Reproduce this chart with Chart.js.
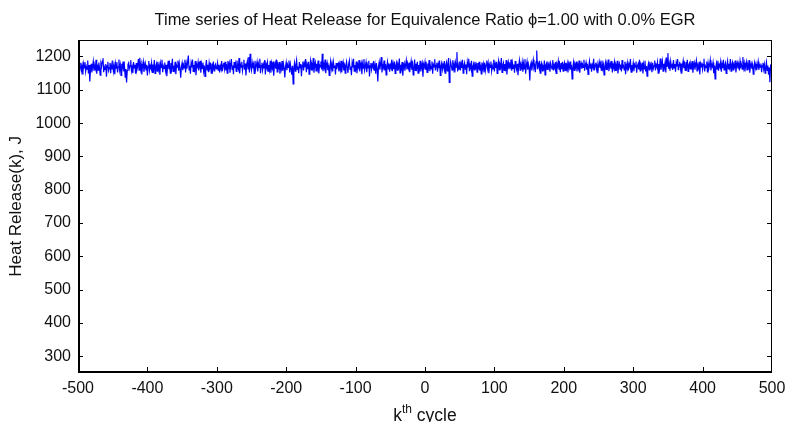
<!DOCTYPE html>
<html>
<head>
<meta charset="utf-8">
<title>Heat Release time series</title>
<script src="https://cdn.jsdelivr.net/npm/chart.js@4/dist/chart.umd.min.js"></script>
<style>
  html, body { margin: 0; padding: 0; background: #ffffff; }
  canvas { display: block; }
</style>
</head>
<body>
<canvas id="chart" width="788" height="422"></canvas>
<script>
// Cycle numbering starts here and advances by one per value
const firstCycle = -500;

// Heat release per engine cycle, J (cycles -500 … 500)
const heatRelease = [
  1162,1175,1150,1168,1181,1158,1172,1145,1178,1166,1183,1155,1170,1162,1188,1149,1174,1125,1160,1178,1152,1169,1185,1157,1171,
  1163,1190,1148,1176,1159,1182,1167,1144,1179,1170,1186,1195,1153,1168,1161,1177,1139,1172,1184,1158,1166,1180,1150,1175,1163,
  1188,1156,1171,1147,1179,1165,1183,1152,1169,1191,1160,1174,1143,1178,1167,1185,1155,1170,1138,1162,1122,1158,1176,1181,1164,
  1172,1189,1157,1168,1150,1183,1166,1175,1148,1180,1161,1171,1192,1159,1196,1163,1177,1146,1173,1185,1154,1168,1179,1160,1175,
  1143,1170,1186,1158,1172,1165,1181,1152,1176,1163,1189,1149,1170,1178,1156,1184,1161,1173,1145,1179,1167,1190,1153,1171,1164,
  1182,1158,1175,1141,1169,1187,1162,1176,1150,1180,1166,1193,1155,1172,1161,1184,1147,1174,1168,1188,1157,1179,1163,1136,1170,
  1181,1159,1175,1166,1190,1152,1178,1163,1185,1203,1160,1172,1148,1180,1167,1191,1155,1174,1162,1186,1144,1176,1169,1183,1158,
  1171,1187,1151,1177,1164,1182,1156,1173,1140,1168,1189,1160,1175,1153,1181,1166,1174,1150,1179,1162,1185,1157,1170,1176,1163,
  1168,1181,1159,1175,1152,1171,1163,1186,1156,1174,1181,1163,1184,1158,1177,1150,1186,1169,1180,1151,1175,1192,1161,1173,1147,
  1183,1166,1178,1155,1188,1170,1162,1195,1149,1176,1168,1184,1157,1172,1190,1160,1179,1143,1174,1186,1163,1198,1152,1208,1169,
  1158,1181,1165,1176,1149,1187,1162,1173,1184,1155,1178,1167,1193,1150,1172,1181,1159,1175,1164,1189,1146,1177,1168,1182,1156,
  1174,1160,1187,1151,1179,1166,1185,1142,1171,1180,1163,1191,1154,1176,1168,1183,1148,1173,1162,1186,1157,1178,1165,1137,1170,
  1182,1159,1175,1167,1188,1152,1177,1163,1145,1172,1118,1165,1180,1156,1174,1189,1161,1170,1150,1183,1166,1177,1141,1173,1185,
  1158,1179,1168,1192,1153,1175,1162,1184,1147,1171,1187,1160,1176,1166,1195,1151,1173,1182,1157,1178,1164,1188,1149,1174,1169,
  1185,1161,1208,1156,1177,1166,1191,1150,1172,1181,1159,1175,1143,1170,1186,1163,1178,1155,1183,1167,1173,1146,1180,1162,1176,
  1180,1155,1176,1161,1187,1152,1173,1183,1158,1179,1150,1172,1184,1165,1151,1177,1188,1161,1170,1144,1181,1167,1193,1156,1174,
  1162,1185,1150,1176,1168,1189,1155,1173,1181,1147,1178,1165,1192,1159,1171,1183,1153,1175,1166,1187,1140,1172,1180,1161,1176,
  1169,1186,1157,1174,1148,1180,1164,1125,1170,1183,1160,1176,1198,1152,1173,1166,1188,1158,1177,1145,1171,1184,1163,1179,1154,
  1174,1167,1190,1156,1178,1162,1185,1149,1172,1181,1159,1176,1168,1194,1151,1175,1164,1183,1142,1170,1179,1157,1173,1188,1161,
  1177,1165,1182,1153,1172,1186,1160,1175,1145,1169,1191,1158,1178,1166,1184,1150,1174,1163,1187,1155,1171,1180,1139,1176,1168,
  1183,1160,1174,1152,1179,1167,1189,1156,1172,1163,1185,1148,1176,1169,1192,1158,1173,1181,1154,1177,1165,1188,1143,1171,1180,
  1161,1176,1167,1186,1150,1173,1182,1157,1178,1195,1122,1166,1184,1171,1159,1189,1164,1177,1152,1181,1168,1213,1155,1174,1162,
  1185,1158,1179,1166,1190,1150,1172,1181,1162,1176,1147,1183,1169,1193,1156,1174,1165,1187,1141,1170,1178,1160,1184,1167,1175,
  1153,1180,1161,1184,1157,1176,1148,1182,1164,1177,1152,1182,1158,1174,1188,1164,1179,1150,1175,1167,1185,1156,1172,1163,1190,
  1155,1178,1166,1184,1149,1174,1187,1160,1176,1169,1195,1152,1173,1181,1158,1177,1165,1189,1146,1171,1183,1162,1175,1168,1191,
  1157,1180,1164,1176,1151,1186,1170,1161,1178,1144,1173,1188,1159,1175,1167,1183,1154,1179,1163,1192,1148,1172,1185,1160,1177,
  1166,1128,1174,1182,1158,1176,1190,1165,1172,1153,1184,1218,1162,1178,1169,1187,1150,1175,1181,1157,1170,1164,1188,1145,1173,
  1179,1161,1185,1167,1176,1154,1180,1171,1163,1189,1158,1174,1166,1183,1149,1177,1170,1186,1160,1175,1153,1180,1162,1184,1156,
  1175,1182,1158,1181,1164,1178,1152,1178,1167,1185,1160,1175,1133,1166,1182,1158,1177,1169,1185,1155,1174,1164,1188,1151,1172,
  1180,1163,1176,1167,1190,1157,1173,1182,1160,1177,1146,1171,1186,1165,1179,1154,1175,1168,1193,1158,1174,1181,1162,1176,1150,
  1172,1184,1166,1178,1159,1188,1164,1175,1145,1170,1182,1161,1177,1168,1191,1156,1173,1180,1163,1186,1152,1176,1167,1183,1158,
  1174,1165,1187,1149,1171,1179,1162,1176,1155,1189,1168,1172,1160,1184,1147,1175,1166,1181,1158,1177,1170,1192,1153,1174,1163,
  1180,1156,1175,1168,1185,1151,1172,1178,1161,1190,1157,1174,1166,1182,1149,1176,1163,1187,1155,1171,1141,1168,1179,1160,1184,
  1167,1176,1153,1181,1164,1172,1188,1158,1175,1169,1183,1150,1177,1165,1194,1160,1173,1186,1156,1178,1167,1182,1152,1197,1171,
  1210,1163,1178,1157,1185,1169,1174,1160,1189,1166,1177,1154,1181,1170,1192,1159,1175,1184,1162,1179,1148,1173,1187,1165,1176,
  1158,1183,1169,1190,1155,1174,1180,1163,1177,1168,1186,1151,1172,1181,1160,1175,1188,1157,1173,1166,1184,1146,1178,1169,1182,
  1161,1176,1193,1155,1172,1167,1185,1152,1179,1164,1174,1189,1158,1176,1170,1182,1150,1173,1133,1168,1180,1162,1187,1157,1175,
  1169,1184,1154,1177,1165,1190,1160,1174,1181,1149,1172,1186,1163,1178,1167,1192,1156,1175,1183,1160,1176,1170,1188,1152,1173,
  1181,1164,1177,1158,1186,1170,1175,1162,1198,1167,1180,1155,1173,1184,1160,1176,1168,1189,1151,1172,1179,1163,1175,1147,1170,
  1182,1165,1177,1159,1171,1185,1160,1174,1168,1179,1153,1172,1181,1162,1176,1150,1169,1183,1158,1173,1145,1167,1123,1176,1161,
  1150
];

// Axis ticks
const xTicks = [-500, -400, -300, -200, -100, 0, 100, 200, 300, 400, 500];
const yTicks = [300, 400, 500, 600, 700, 800, 900, 1000, 1100, 1200];

const FONT = '"Liberation Sans", Arial, Helvetica, sans-serif';
const INK = '#111111';

// Box around the plot with inward tick marks on all four sides
const boxAndTicks = {
  id: 'boxAndTicks',
  afterDatasetsDraw(chart) {
    const { ctx, chartArea: a, scales } = chart;
    const tl = 5;
    const L = Math.round(a.left), R = Math.round(a.right) - 1;
    const T = Math.round(a.top), B = Math.round(a.bottom) - 1;
    ctx.save();
    ctx.strokeStyle = '#000000';
    ctx.lineWidth = 1;
    ctx.beginPath();
    ctx.rect(L + 0.5, T + 0.5, R - L, B - T);
    ctx.stroke();
    ctx.beginPath();
    xTicks.forEach(v => {
      const px = Math.min(Math.max(Math.round(scales.x.getPixelForValue(v)), L), R) + 0.5;
      ctx.moveTo(px, B); ctx.lineTo(px, B - tl);
      ctx.moveTo(px, T); ctx.lineTo(px, T + tl);
    });
    yTicks.forEach(v => {
      const py = Math.round(scales.y.getPixelForValue(v)) + 0.5;
      ctx.moveTo(L, py); ctx.lineTo(L + tl, py);
      ctx.moveTo(R + 1, py); ctx.lineTo(R + 1 - tl, py);
    });
    ctx.stroke();
    // heavier left and bottom axis lines
    ctx.lineWidth = 2;
    ctx.beginPath();
    ctx.moveTo(L + 1, T);
    ctx.lineTo(L + 1, B);
    ctx.lineTo(R + 1, B);
    ctx.stroke();
    ctx.restore();
  }
};

// x-axis caption with a superscripted ordinal: k^th cycle
const xCaption = {
  id: 'xCaption',
  afterDraw(chart) {
    const { ctx, chartArea: a } = chart;
    const big = '17.5px ' + FONT, small = '12px ' + FONT;
    ctx.save();
    ctx.fillStyle = INK;
    ctx.textBaseline = 'alphabetic';
    ctx.textAlign = 'left';
    ctx.font = big;
    const wk = ctx.measureText('k').width;
    const wc = ctx.measureText(' cycle').width;
    ctx.font = small;
    const wth = ctx.measureText('th').width;
    const total = wk + wth + wc;
    let x = (a.left + a.right) / 2 - total / 2;
    const base = 421;
    ctx.font = big;
    ctx.fillText('k', x, base);
    x += wk;
    ctx.font = small;
    ctx.fillText('th', x, base - 8);
    x += wth;
    ctx.font = big;
    ctx.fillText(' cycle', x, base);
    ctx.restore();
  }
};

new Chart(document.getElementById('chart'), {
  type: 'line',
  data: {
    datasets: [{
      data: heatRelease.map((v, i) => ({ x: firstCycle + i, y: v })),
      borderColor: '#0000ff',
      borderWidth: 1.2,
      pointRadius: 0,
      tension: 0,
      fill: false
    }]
  },
  options: {
    responsive: false,
    animation: false,
    devicePixelRatio: 1,
    layout: { padding: { left: 0, right: 16, top: 0, bottom: 0 } },
    plugins: {
      legend: { display: false },
      tooltip: { enabled: false },
      title: {
        display: true,
        fullSize: false,
        text: 'Time series of Heat Release for Equivalence Ratio ϕ=1.00 with 0.0% EGR',
        color: INK,
        font: { family: FONT, size: 16.5, weight: 'normal' },
        padding: { top: 11, bottom: 9 }
      }
    },
    scales: {
      x: {
        type: 'linear',
        min: -500,
        max: 500,
        afterBuildTicks(scale) { scale.ticks = xTicks.map(v => ({ value: v })); },
        afterFit(scale) {
          scale.height = 49;
          scale.paddingLeft = 0;
          scale.paddingRight = 0;
        },
        grid: { display: false, drawTicks: false },
        border: { display: false },
        ticks: {
          color: INK,
          font: { family: FONT, size: 16 },
          padding: 6,
          maxRotation: 0,
          autoSkip: false,
          callback: v => String(v)
        }
      },
      y: {
        type: 'linear',
        min: 250,
        max: 1250,
        afterBuildTicks(scale) { scale.ticks = yTicks.map(v => ({ value: v })); },
        afterFit(scale) { scale.width = 78; },
        grid: { display: false, drawTicks: false },
        border: { display: false },
        ticks: {
          color: INK,
          font: { family: FONT, size: 16 },
          padding: 7,
          autoSkip: false,
          callback: v => String(v)
        },
        title: {
          display: true,
          text: 'Heat Release(k), J',
          color: INK,
          font: { family: FONT, size: 17 },
          padding: { top: 6, bottom: 0 }
        }
      }
    }
  },
  plugins: [boxAndTicks, xCaption]
});
</script>
</body>
</html>
